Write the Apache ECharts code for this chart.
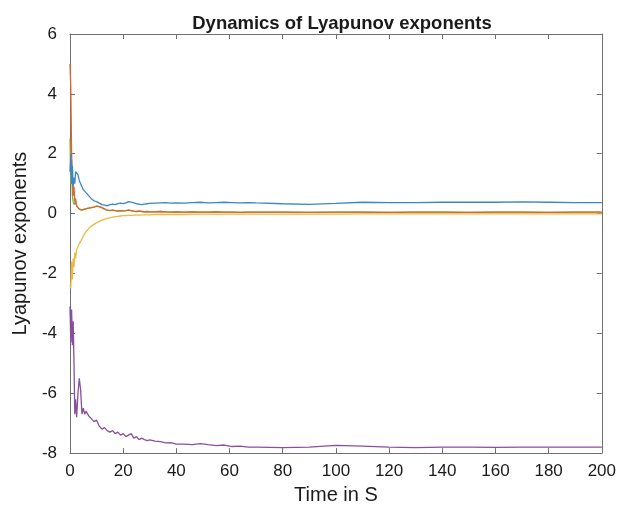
<!DOCTYPE html>
<html>
<head>
<meta charset="utf-8">
<script src="https://cdn.jsdelivr.net/npm/echarts@6/dist/echarts.min.js"></script>
<style>
  html, body { margin: 0; padding: 0; background: #fff; }
  #chart { width: 619px; height: 510px; }
</style>
</head>
<body>
<div id="chart"></div>
<script>
// Sample times (s)
var time = [0, 0.3, 0.6, 0.9, 1.2, 1.5, 1.8, 2.1, 2.5, 3,
  3.5, 4, 4.5, 5, 5.5, 6, 7, 8, 9, 10,
  11, 12, 13, 14, 15, 16, 17, 18, 19, 20,
  21, 22, 23, 24, 25, 26, 27, 28, 29, 30,
  32, 34, 36, 38, 40,
  43, 46, 49, 52, 55, 58, 61, 64, 67, 70,
  80, 90, 100, 110, 120, 130, 140, 150, 160, 170, 180, 190, 200];

// Lyapunov exponents λ1..λ5
var lambda1 = [1.4, 2.0, 1.0, 1.6, 0.9, 1.2, 1.0, 1.4, 1.35, 1.3,
  1.1, 1.0, 0.9, 0.8, 0.75, 0.7, 0.6, 0.5, 0.43, 0.4,
  0.35, 0.3, 0.28, 0.26, 0.3, 0.32, 0.3, 0.33, 0.35, 0.33,
  0.36, 0.4, 0.38, 0.36, 0.33, 0.32, 0.3, 0.32, 0.33, 0.34,
  0.35, 0.36, 0.37, 0.35, 0.36,
  0.35, 0.37, 0.38, 0.36, 0.37, 0.38, 0.37, 0.36, 0.37, 0.36,
  0.33, 0.31, 0.34, 0.38, 0.37, 0.37, 0.38, 0.38, 0.38, 0.39, 0.38, 0.37, 0.37];

var lambda2 = [5.0, 4.2, 2.0, 1.2, 0.6, 0.9, 0.4, 0.5, 0.25, 0.2,
  0.15, 0.1, 0.12, 0.1, 0.15, 0.12, 0.18, 0.2, 0.22, 0.25,
  0.23, 0.2, 0.15, 0.12, 0.1, 0.12, 0.1, 0.08, 0.1, 0.09,
  0.1, 0.12, 0.1, 0.08, 0.07, 0.08, 0.07, 0.06, 0.07, 0.06,
  0.06, 0.07, 0.06, 0.05, 0.06,
  0.05, 0.06, 0.05, 0.05, 0.06, 0.05, 0.05, 0.04, 0.05, 0.05,
  0.05, 0.04, 0.05, 0.05, 0.04, 0.05, 0.05, 0.04, 0.05, 0.05, 0.04, 0.05, 0.05];

var lambda3 = [-2.4, -2.5, -1.6, -2.2, -1.5, -1.8, -1.3, -1.5, -1.2, -1.1,
  -1.0, -0.95, -0.85, -0.75, -0.7, -0.6, -0.5, -0.42, -0.36, -0.3,
  -0.26, -0.22, -0.19, -0.16, -0.14, -0.12, -0.1, -0.09, -0.08, -0.07,
  -0.07, -0.06, -0.06, -0.05, -0.05, -0.05, -0.04, -0.04, -0.04, -0.04,
  -0.03, -0.03, -0.03, -0.03, -0.03,
  -0.03, -0.02, -0.02, -0.02, -0.02, -0.02, -0.02, -0.02, -0.02, -0.02,
  -0.02, -0.02, -0.02, -0.01, -0.01, -0.01, -0.01, -0.01, -0.01, -0.01, -0.01, -0.01, -0.01];

var lambda4 = [-3.1, -4.3, -3.2, -4.4, -3.6, -5.0, -6.7, -6.2, -6.8, -6.0,
  -5.5, -5.9, -6.7, -6.5, -6.7, -6.6, -6.75, -6.85, -6.95, -6.9,
  -7.1, -7.2, -7.15, -7.25, -7.3, -7.25, -7.35, -7.3, -7.4, -7.35,
  -7.45, -7.4, -7.35, -7.5, -7.45, -7.55, -7.5, -7.55, -7.58, -7.56,
  -7.6, -7.62, -7.66, -7.65, -7.7,
  -7.7, -7.72, -7.68, -7.72, -7.75, -7.73, -7.78, -7.77, -7.8, -7.8,
  -7.82, -7.8, -7.74, -7.77, -7.8, -7.82, -7.8, -7.8, -7.81, -7.8, -7.8, -7.8, -7.8];

var lambda5 = [2.5, 1.0, 1.8, 0.6, 0.4, 0.3, 0.35, 0.4, 0.25, 0.2,
  0.15, 0.1, 0.12, 0.1, 0.15, 0.12, 0.18, 0.2, 0.22, 0.25,
  0.23, 0.2, 0.15, 0.12, 0.1, 0.12, 0.1, 0.08, 0.1, 0.09,
  0.1, 0.12, 0.1, 0.08, 0.07, 0.08, 0.07, 0.06, 0.07, 0.06,
  0.06, 0.07, 0.06, 0.05, 0.06,
  0.05, 0.06, 0.05, 0.05, 0.06, 0.05, 0.05, 0.04, 0.05, 0.05,
  0.05, 0.04, 0.05, 0.05, 0.04, 0.05, 0.05, 0.04, 0.05, 0.05, 0.04, 0.05, 0.05];

var xTicks = { min: 0, max: 200, interval: 20 };
var yTicks = { min: -8, max: 6, interval: 2 };

var seriesColors = ['#3a86c8', '#d9662f', '#edb940', '#8a4f9c', '#7fb03a'];
var seriesData = [lambda1, lambda2, lambda3, lambda4, lambda5];
// λ5 first so the others sit on top of it
var drawOrder = [4, 2, 1, 0, 3];

function pairs(ys) {
  return time.map(function (t, i) { return [t, ys[i]]; });
}

var axisGray = '#6f6f6f';
var font = 'Liberation Sans, Arial, sans-serif';

function xAxisDef(pos, showLabels) {
  return {
    type: 'value', position: pos,
    min: xTicks.min, max: xTicks.max, interval: xTicks.interval,
    axisLine: { show: true, onZero: false, lineStyle: { color: axisGray, width: 1 } },
    axisTick: { show: true, inside: true, length: 5, lineStyle: { color: axisGray } },
    axisLabel: { show: showLabels, color: '#1a1a1a', fontSize: 17, fontFamily: font, margin: 10 },
    splitLine: { show: false }
  };
}
function yAxisDef(pos, showLabels) {
  return {
    type: 'value', position: pos,
    min: yTicks.min, max: yTicks.max, interval: yTicks.interval,
    axisLine: { show: true, onZero: false, lineStyle: { color: axisGray, width: 1 } },
    axisTick: { show: true, inside: true, length: 5, lineStyle: { color: axisGray } },
    axisLabel: { show: showLabels, color: '#1a1a1a', fontSize: 17, fontFamily: font, margin: 13 },
    splitLine: { show: false }
  };
}

var xMain = xAxisDef('bottom', true);
xMain.name = 'Time in S';
xMain.nameLocation = 'middle';
xMain.nameGap = 29;
xMain.nameTextStyle = { color: '#1a1a1a', fontSize: 20, fontFamily: font };

var yMain = yAxisDef('left', true);
yMain.name = 'Lyapunov exponents';
yMain.nameLocation = 'middle';
yMain.nameGap = 38;
yMain.nameTextStyle = { color: '#1a1a1a', fontSize: 20, fontFamily: font };

var chart = echarts.init(document.getElementById('chart'), null, { renderer: 'canvas' });
chart.setOption({
  animation: false,
  backgroundColor: '#ffffff',
  title: {
    text: 'Dynamics of Lyapunov exponents',
    left: 337, top: 9, textAlign: 'center',
    textStyle: { fontSize: 18.5, fontWeight: 'bold', color: '#1a1a1a', fontFamily: font }
  },
  grid: { left: 70, right: 15, top: 34, bottom: 56, containLabel: false },
  xAxis: [xMain, xAxisDef('top', false)],
  yAxis: [yMain, yAxisDef('right', false)],
  series: drawOrder.map(function (k) {
    return {
      type: 'line',
      data: pairs(seriesData[k]),
      showSymbol: false,
      symbol: 'none',
      lineStyle: { color: seriesColors[k], width: 1.3 },
      z: 2
    };
  })
});
</script>
</body>
</html>
